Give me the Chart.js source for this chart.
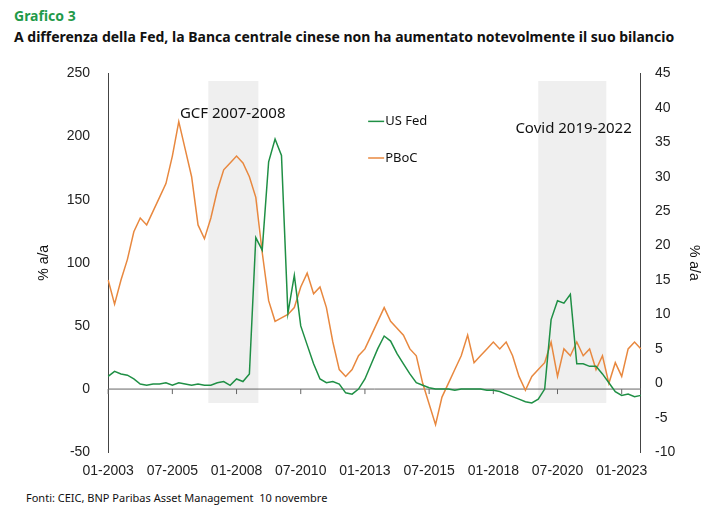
<!DOCTYPE html>
<html>
<head>
<meta charset="utf-8">
<script src="https://cdn.jsdelivr.net/npm/chart.js@4"></script>
<style>
  body { margin: 0; background: #fff; font-family: "Noto Sans", sans-serif; }
  #wrap { position: relative; width: 725px; height: 512px; }
  .t1 { position: absolute; left: 14px; top: 6px; color: #1f9a4a; font-weight: bold; font-size: 14px; }
  .t2 { position: absolute; left: 14px; top: 27px; color: #111; font-weight: bold; font-size: 14px; }
  .src { position: absolute; left: 26px; top: 490px; font-size: 11px; color: #111; }
  #box { position: absolute; left: 0; top: 55px; width: 725px; height: 428px; }
</style>
</head>
<body>
<div id="wrap">
  <div class="t1">Grafico 3</div>
  <div class="t2">A differenza della Fed, la Banca centrale cinese non ha aumentato notevolmente il suo bilancio</div>
  <div id="box"><canvas id="c"></canvas></div>
  <div class="src">Fonti: CEIC, BNP Paribas Asset Management&nbsp; 10 novembre</div>
</div>
<script>
// quarterly, 2003Q1 .. 2023Q4
const years = [];
for (let y = 2003; y <= 2023; y++) years.push(y);
const labels = [];
years.forEach(y => ['01', '04', '07', '10'].forEach(m => labels.push(m + '-' + y)));

const usFed = [
  10, 14, 12, 11,   8, 4, 3, 4,   4, 5, 3, 5,   4, 3, 4, 3,   3, 5, 6, 3,
  8, 6, 12, 120,   110, 180, 198, 185,   60, 90, 50, 35,   20, 8, 5, 6,
  4, -3, -4, 0,   8, 20, 32, 42,   38, 28, 20, 12,   5, 3, 1, 0,   0, 0, -1, 0,
  0, 0, 0, -1,   -1, -2, -4, -6,   -8, -10, -11, -8,   0, 55, 70, 68,
  75, 20, 20, 18,   18, 12, 5, -2,   -5, -4, -6, -5
];
const pboc = [
  15, 11.5, 15, 18,   22, 24, 23, 25,   27, 29, 33, 38,   34, 30, 23, 21,
  24, 28, 31, 32,   33, 32, 30, 27,   19, 12, 9, 9.5,   10, 11, 14, 16,
  13, 14, 11, 6,   2, 1, 2, 4,   5, 7, 9, 11,   9, 8, 7, 5,   4, 0, -3, -6,
  -2, 0, 2, 4,   7, 3, 4, 5,   6, 5, 6, 4,   1, -1, 1, 2,   3, 6, 1, 5,
  4, 6, 4, 5,   2, 4, 0, 3,   1, 5, 6, 5
];
const leftTicks = [-50, 0, 50, 100, 150, 200, 250];
const rightTicks = [-10, -5, 0, 5, 10, 15, 20, 25, 30, 35, 40, 45];
const shaded = [
  { from: 15.6, to: 23.4, text: 'GCF 2007-2008', tx: 19.4, ty: 215 },
  { from: 67, to: 77.6, text: 'Covid 2019-2022', tx: 72.5, ty: 203 }
];

const GREEN = '#1f8f45';
const ORANGE = '#e8883f';

const decor = {
  id: 'decor',
  beforeDatasetsDraw(chart) {
    const { ctx, scales: { x, y } } = chart;
    ctx.save();
    ctx.fillStyle = '#efefef';
    shaded.forEach(s => {
      const x0 = x.getPixelForValue(s.from), x1 = x.getPixelForValue(s.to);
      const y0 = y.getPixelForValue(244), y1 = y.getPixelForValue(-11);
      ctx.fillRect(x0, y0, x1 - x0, y1 - y0);
    });
    // zero line with ticks
    const y0 = y.getPixelForValue(0);
    ctx.strokeStyle = '#666'; ctx.lineWidth = 1;
    ctx.beginPath(); ctx.moveTo(x.left, y0); ctx.lineTo(x.right, y0); ctx.stroke();
    labels.forEach((l, i) => {
      if (i % 10 === 0) {
        const px = x.getPixelForValue(i);
        ctx.beginPath(); ctx.moveTo(px, y0); ctx.lineTo(px, y0 + 5); ctx.stroke();
      }
    });
    ctx.restore();
  },
  afterDatasetsDraw(chart) {
    const { ctx, scales: { x, y } } = chart;
    ctx.save();
    ctx.fillStyle = '#111';
    ctx.font = '15px "Noto Sans"';
    ctx.textAlign = 'center';
    shaded.forEach(s => ctx.fillText(s.text, x.getPixelForValue(s.tx), y.getPixelForValue(s.ty)));
    // legend
    ctx.textAlign = 'left';
    ctx.font = '13px "Noto Sans"';
    [[GREEN, 'US Fed', 212], [ORANGE, 'PBoC', 183]].forEach(([c, t, v]) => {
      const py = y.getPixelForValue(v);
      const px = x.getPixelForValue(40.5);
      ctx.strokeStyle = c; ctx.lineWidth = 1.5;
      ctx.beginPath(); ctx.moveTo(px, py); ctx.lineTo(px + 16, py); ctx.stroke();
      ctx.fillText(t, px + 17, py + 4);
    });
    ctx.restore();
  }
};

new Chart(document.getElementById('c'), {
  type: 'line',
  data: {
    labels,
    datasets: [
      { label: 'US Fed', data: usFed, borderColor: GREEN, borderWidth: 1.5, pointRadius: 0, yAxisID: 'y', tension: 0 },
      { label: 'PBoC', data: pboc, borderColor: ORANGE, borderWidth: 1.5, pointRadius: 0, yAxisID: 'y2', tension: 0 }
    ]
  },
  options: {
    responsive: true,
    maintainAspectRatio: false,
    animation: false,
    layout: { padding: { left: 32, right: 19, top: 6, bottom: 0 } },
    plugins: { legend: { display: false }, tooltip: { enabled: false } },
    scales: {
      x: {
        offset: false,
        grid: { display: false },
        border: { display: false },
        ticks: {
          autoSkip: false, maxRotation: 0, color: '#222', font: { size: 14 },
          callback: (v, i) => (i % 10 === 0 ? labels[i] : null)
        }
      },
      y: {
        position: 'left', min: -50, max: 250,
        afterBuildTicks: ax => { ax.ticks = leftTicks.map(v => ({ value: v })); },
        grid: { display: false },
        border: { display: true, color: '#444' },
        ticks: { color: '#222', font: { size: 14 }, padding: 10 },
        title: { display: true, text: '% a/a', color: '#111', font: { size: 14 } }
      },
      y2: {
        position: 'right', min: -10, max: 45,
        afterBuildTicks: ax => { ax.ticks = rightTicks.map(v => ({ value: v })); },
        grid: { display: false, drawOnChartArea: false },
        border: { display: true, color: '#444' },
        ticks: { color: '#222', font: { size: 14 }, padding: 6 },
        title: { display: true, text: '% a/a', color: '#111', font: { size: 14 } }
      }
    }
  },
  plugins: [decor]
});
</script>
</body>
</html>
